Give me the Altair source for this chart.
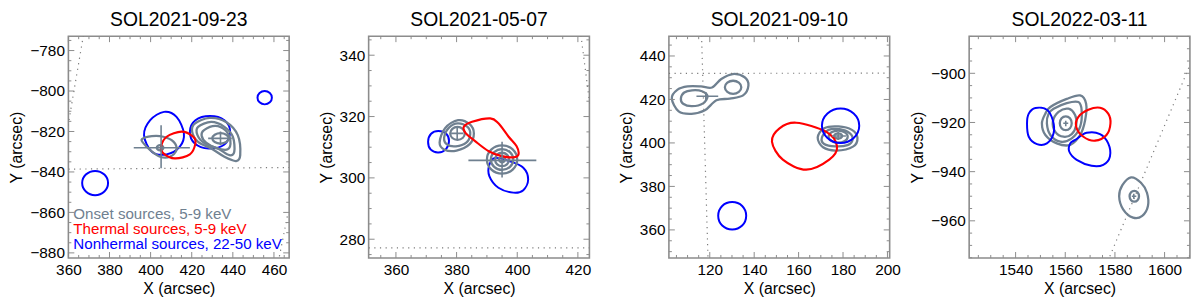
import altair as alt
import pandas as pd

FONT = "Liberation Sans"
ONSET_C = "#6f8090"
THERM_C = "#ff0000"
NONTH_C = "#0000ff"
FRAME_C = "#8c8c8c"
DOT_C = "#7a7a7a"

KINDS = ["onset", "thermal", "nonthermal"]
KIND_COLORS = [ONSET_C, THERM_C, NONTH_C]

TITLES = ["SOL2021-09-23", "SOL2021-05-07", "SOL2021-09-10", "SOL2022-03-11"]
X_DOMAINS = [[360.0, 467.4], [351.0, 423.8], [101.6, 201.0], [1521.3, 1610.2]]
Y_DOMAINS = [[-882.5, -772.9], [273.9, 346.2], [347.1, 449.1], [-975.1, -884.9]]
X_TICKS = [[360, 380, 400, 420, 440, 460], [360, 380, 400, 420],
           [120, 140, 160, 180, 200], [1540, 1560, 1580, 1600]]
Y_TICKS = [[-880, -860, -840, -820, -800, -780], [280, 300, 320, 340],
           [360, 380, 400, 420, 440], [-960, -940, -920, -900]]

LEGEND_TEXT = ["Onset sources, 5-9 keV", "Thermal sources, 5-9 keV",
               "Nonhermal sources, 22-50 keV"]

# ---------------- Panel 1: SOL2021-09-23 ----------------
P1_NT1_X = [379.3, 377.5, 373.0, 368.5, 366.7, 368.5, 373.0, 377.5]
P1_NT1_Y = [-845.5, -841.3, -839.5, -841.3, -845.5, -849.7, -851.5, -849.7]
P1_NT2_X = [459.0, 458.0, 455.5, 453.0, 452.0, 453.0, 455.5, 458.0]
P1_NT2_Y = [-803.3, -801.0, -800.0, -801.0, -803.3, -805.6, -806.6, -805.6]
P1_NT3_X = [406.5, 412.6, 416.2, 414.2, 407.8, 400.6, 396.8, 399.8]
P1_NT3_Y = [-810.3, -812.8, -821.0, -827.5, -831.3, -830.0, -821.8, -814.4]
P1_NT4_X = [428.9, 435.9, 438.7, 435.9, 428.2, 421.5, 419.1, 421.8]
P1_NT4_Y = [-812.3, -814.4, -820.1, -826.4, -828.4, -825.9, -820.1, -814.4]
P1_TH1_X = [415.1, 420.7, 421.8, 419.1, 411.8, 406.2, 405.1, 407.8]
P1_TH1_Y = [-820.1, -822.6, -825.9, -831.3, -833.3, -830.8, -827.5, -822.6]
P1_ON1_X = [395.8, 400.6, 406.2, 411.1, 412.6, 409.4, 404.6, 399.8, 396.6]
P1_ON1_Y = [-823.8, -822.3, -822.6, -825.0, -829.2, -832.5, -832.5, -829.2, -825.9]
P1_ON2_X = [406.2, 405.7, 404.6, 403.5, 403.0, 403.5, 404.6, 405.7]
P1_ON2_Y = [-828.0, -827.1, -826.7, -827.1, -828.0, -828.9, -829.3, -828.9]
P1_ON3_X = [421.5, 428.7, 436.7, 442.4, 443.6, 441.6, 435.9, 429.5, 423.1, 420.2]
P1_ON3_Y = [-816.1, -813.3, -815.3, -821.8, -831.7, -834.6, -832.5, -828.4, -825.1, -820.1]
P1_ON4_X = [423.1, 429.5, 435.9, 440.0, 440.7, 438.3, 432.7, 426.3, 422.8]
P1_ON4_Y = [-817.7, -815.3, -817.7, -822.6, -830.0, -831.7, -828.4, -825.9, -821.8]
P1_ON5_X = [426.0, 431.5, 436.5, 438.8, 437.5, 432.0, 427.0, 424.8]
P1_ON5_Y = [-819.3, -817.2, -819.5, -824.5, -828.8, -828.2, -825.5, -822.0]
P1_ON6_X = [438.0, 436.8, 434.0, 431.2, 430.0, 431.2, 434.0, 436.8]
P1_ON6_Y = [-823.4, -821.6, -820.8, -821.6, -823.4, -825.2, -826.0, -825.2]
P1_CROSS_X1 = [391.8, 405.1, 428.0, 434.0]
P1_CROSS_X2 = [419.1, 405.1, 439.5, 434.0]
P1_CROSS_Y1 = [-828.0, -816.9, -823.4, -820.0]
P1_CROSS_Y2 = [-828.0, -838.2, -823.4, -826.8]
P1_DOT_X1 = [360.0, 367.3, 466.5]
P1_DOT_X2 = [467.4, 359.6, 462.5]
P1_DOT_Y1 = [-838.6, -772.5, -862.0]
P1_DOT_Y2 = [-837.8, -818.5, -882.5]

# ---------------- Panel 2: SOL2021-05-07 ----------------
P2_NT1_X = [374.0, 376.6, 377.5, 376.5, 374.0, 371.5, 370.6, 371.6]
P2_NT1_Y = [315.3, 314.4, 312.0, 309.4, 308.3, 309.2, 311.8, 314.4]
P2_NT2_X = [392.7, 397.6, 402.0, 403.6, 402.0, 398.7, 393.8, 390.8, 390.8]
P2_NT2_Y = [306.5, 305.4, 303.3, 299.5, 296.0, 295.2, 296.8, 300.6, 304.3]
P2_TH1_X = [382.4, 385.1, 391.1, 393.8, 397.1, 399.8, 400.4, 398.7, 394.9, 390.6, 386.2, 383.0]
P2_TH1_Y = [316.7, 318.3, 319.4, 317.8, 313.5, 310.3, 307.6, 306.7, 307.1, 308.7, 311.9, 314.6]
P2_ON1_X = [380.5, 384.3, 385.7, 384.3, 380.0, 376.0, 374.4, 376.2]
P2_ON1_Y = [318.8, 317.5, 314.5, 311.0, 308.9, 309.2, 311.5, 316.2]
P2_ON2_X = [380.4, 383.6, 384.5, 383.2, 379.8, 376.8, 375.9, 377.5]
P2_ON2_Y = [317.8, 316.6, 314.2, 311.5, 310.3, 310.9, 313.2, 316.4]
P2_ON3_X = [382.7, 382.0, 380.3, 378.6, 377.9, 378.6, 380.3, 382.0]
P2_ON3_Y = [314.5, 316.0, 316.6, 316.0, 314.5, 313.0, 312.4, 313.0]
P2_ON4_X = [400.0, 398.5, 395.0, 391.5, 390.0, 391.5, 395.0, 398.5]
P2_ON4_Y = [306.0, 309.3, 310.6, 309.3, 306.0, 302.7, 301.4, 302.7]
P2_ON5_X = [398.7, 397.6, 395.0, 392.4, 391.3, 392.4, 395.0, 397.6]
P2_ON5_Y = [306.0, 308.4, 309.4, 308.4, 306.0, 303.6, 302.6, 303.6]
P2_ON6_X = [397.3, 396.6, 395.0, 393.4, 392.7, 393.4, 395.0, 396.6]
P2_ON6_Y = [306.0, 307.6, 308.2, 307.6, 306.0, 304.4, 303.8, 304.4]
P2_ON7_X = [396.0, 395.7, 395.0, 394.3, 394.0, 394.3, 395.0, 395.7]
P2_ON7_Y = [306.0, 306.6, 306.9, 306.6, 306.0, 305.4, 305.1, 305.4]
P2_CROSS_X1 = [378.2, 380.2, 383.9, 395.0]
P2_CROSS_X2 = [382.2, 380.2, 406.3, 395.0]
P2_CROSS_Y1 = [314.5, 312.5, 305.7, 300.1]
P2_CROSS_Y2 = [314.5, 316.6, 305.7, 311.8]
P2_DOT_X1 = [351.0, 421.0]
P2_DOT_X2 = [423.8, 424.2]
P2_DOT_Y1 = [277.2, 346.5]
P2_DOT_Y2 = [277.2, 322.0]

# ---------------- Panel 3: SOL2021-09-10 ----------------
P3_ON1_X = [102.9, 105.5, 110.0, 116.0, 121.0, 125.2, 130.4, 135.7, 137.4, 135.0, 129.0, 123.0, 117.8, 111.8, 106.0]
P3_ON1_Y = [420.5, 424.5, 426.0, 426.0, 425.5, 429.4, 431.7, 430.2, 426.4, 421.9, 420.4, 419.6, 415.0, 413.4, 414.5]
P3_ON2_X = [112.0, 116.5, 119.0, 117.0, 112.0, 108.0, 107.0, 108.5]
P3_ON2_Y = [424.2, 423.8, 421.5, 418.2, 416.9, 418.0, 420.5, 423.2]
P3_ON3_X = [134.2, 133.1, 130.5, 127.9, 126.8, 127.9, 130.5, 133.1]
P3_ON3_Y = [425.6, 427.7, 428.6, 427.7, 425.6, 423.5, 422.6, 423.5]
P3_ON4_X = [171.5, 178.0, 184.0, 186.5, 184.5, 177.0, 171.0, 168.6]
P3_ON4_Y = [406.8, 407.6, 406.0, 402.4, 398.3, 396.5, 398.0, 402.5]
P3_ON5_X = [173.5, 178.5, 183.0, 184.3, 182.0, 176.5, 171.5, 170.5]
P3_ON5_Y = [406.0, 406.3, 404.5, 401.5, 399.0, 398.4, 399.5, 402.5]
P3_ON6_X = [182.1, 180.8, 177.8, 174.8, 173.5, 174.8, 177.8, 180.8]
P3_ON6_Y = [402.9, 404.9, 405.7, 404.9, 402.9, 400.9, 400.1, 400.9]
P3_ON7_X = [179.6, 179.1, 177.8, 176.5, 176.0, 176.5, 177.8, 179.1]
P3_ON7_Y = [403.2, 404.0, 404.4, 404.0, 403.2, 402.4, 402.0, 402.4]
P3_TH1_X = [158.9, 172.3, 177.3, 173.8, 163.4, 152.9, 148.0, 151.4]
P3_TH1_Y = [409.3, 405.2, 398.4, 392.3, 387.7, 392.3, 400.6, 406.7]
P3_NT1_X = [187.3, 184.8, 178.9, 173.0, 170.5, 173.0, 178.9, 184.8]
P3_NT1_Y = [407.9, 413.5, 415.8, 413.5, 407.9, 402.3, 400.0, 402.3]
P3_NT2_X = [136.4, 134.6, 130.1, 125.6, 123.8, 125.6, 130.1, 134.6]
P3_NT2_Y = [366.5, 371.0, 372.8, 371.0, 366.5, 362.0, 360.2, 362.0]
P3_CROSS_X1 = [114.0, 118.2, 175.0, 177.8]
P3_CROSS_X2 = [123.8, 118.2, 181.3, 177.8]
P3_CROSS_Y1 = [421.5, 419.5, 403.2, 401.4]
P3_CROSS_Y2 = [421.5, 423.4, 403.2, 405.0]
P3_DOT_X1 = [101.6, 116.3]
P3_DOT_X2 = [201.0, 119.2]
P3_DOT_Y1 = [432.0, 449.5]
P3_DOT_Y2 = [432.1, 347.0]

# ---------------- Panel 4: SOL2022-03-11 ----------------
P4_ON1_X = [1554.0, 1560.6, 1566.0, 1568.4, 1568.0, 1566.0, 1562.0, 1556.6, 1552.0, 1550.6, 1552.0]
P4_ON1_Y = [-913.7, -910.4, -909.0, -912.4, -919.1, -925.1, -929.1, -928.5, -925.1, -920.4, -916.4]
P4_ON2_X = [1555.3, 1560.6, 1565.3, 1566.6, 1566.0, 1562.6, 1558.0, 1554.0, 1552.6, 1553.3]
P4_ON2_Y = [-914.4, -912.1, -911.7, -915.1, -921.7, -926.5, -927.8, -925.1, -920.4, -916.4]
P4_ON3_X = [1557.3, 1561.3, 1564.0, 1564.4, 1562.6, 1559.3, 1556.0, 1555.0]
P4_ON3_Y = [-915.7, -914.4, -917.1, -921.1, -924.7, -925.8, -923.8, -919.7]
P4_ON4_X = [1562.6, 1561.9, 1560.2, 1558.5, 1557.8, 1558.5, 1560.2, 1561.9]
P4_ON4_Y = [-920.3, -918.3, -917.5, -918.3, -920.3, -922.3, -923.1, -922.3]
P4_ON5_X = [1586.5, 1590.5, 1592.9, 1593.3, 1591.0, 1587.3, 1583.3, 1581.7, 1583.0]
P4_ON5_Y = [-942.3, -944.5, -948.6, -954.0, -958.0, -958.7, -955.3, -950.0, -945.5]
P4_ON6_X = [1589.7, 1589.1, 1587.8, 1586.5, 1585.9, 1586.5, 1587.8, 1589.1]
P4_ON6_Y = [-950.0, -948.4, -947.8, -948.4, -950.0, -951.6, -952.2, -951.6]
P4_NT1_X = [1548.0, 1552.6, 1555.0, 1555.3, 1552.6, 1548.6, 1545.3, 1544.6, 1545.3]
P4_NT1_Y = [-914.1, -914.8, -919.1, -924.4, -928.5, -928.8, -925.8, -920.4, -916.4]
P4_NT2_X = [1564.0, 1568.6, 1574.0, 1577.3, 1578.0, 1575.3, 1570.6, 1564.6, 1561.6, 1562.0]
P4_NT2_Y = [-927.1, -924.2, -924.7, -928.5, -933.8, -937.2, -937.6, -935.2, -931.8, -928.5]
P4_TH1_X = [1574.0, 1577.3, 1578.2, 1576.6, 1572.0, 1567.3, 1564.4, 1565.3, 1569.3]
P4_TH1_Y = [-914.0, -916.4, -920.4, -925.1, -927.4, -925.8, -921.7, -917.7, -914.8]
P4_CROSS_X1 = [1559.2, 1560.2, 1586.8, 1587.6]
P4_CROSS_X2 = [1561.2, 1560.2, 1588.6, 1587.6]
P4_CROSS_Y1 = [-920.3, -919.3, -950.0, -949.0]
P4_CROSS_Y2 = [-920.3, -921.5, -950.0, -951.0]
P4_DOT_X1 = [1611.5]
P4_DOT_X2 = [1577.5]
P4_DOT_Y1 = [-893.5]
P4_DOT_Y2 = [-975.5]

CONTOURS = [
    (0, "nonthermal", P1_NT1_X, P1_NT1_Y), (0, "nonthermal", P1_NT2_X, P1_NT2_Y),
    (0, "nonthermal", P1_NT3_X, P1_NT3_Y), (0, "nonthermal", P1_NT4_X, P1_NT4_Y),
    (0, "onset", P1_ON1_X, P1_ON1_Y), (0, "onset", P1_ON2_X, P1_ON2_Y),
    (0, "onset", P1_ON3_X, P1_ON3_Y), (0, "onset", P1_ON4_X, P1_ON4_Y),
    (0, "onset", P1_ON5_X, P1_ON5_Y), (0, "onset", P1_ON6_X, P1_ON6_Y),
    (0, "thermal", P1_TH1_X, P1_TH1_Y),
    (1, "nonthermal", P2_NT1_X, P2_NT1_Y), (1, "nonthermal", P2_NT2_X, P2_NT2_Y),
    (1, "onset", P2_ON1_X, P2_ON1_Y), (1, "onset", P2_ON2_X, P2_ON2_Y),
    (1, "onset", P2_ON3_X, P2_ON3_Y), (1, "onset", P2_ON4_X, P2_ON4_Y),
    (1, "onset", P2_ON5_X, P2_ON5_Y), (1, "onset", P2_ON6_X, P2_ON6_Y),
    (1, "onset", P2_ON7_X, P2_ON7_Y), (1, "thermal", P2_TH1_X, P2_TH1_Y),
    (2, "onset", P3_ON1_X, P3_ON1_Y), (2, "onset", P3_ON2_X, P3_ON2_Y),
    (2, "onset", P3_ON3_X, P3_ON3_Y), (2, "onset", P3_ON4_X, P3_ON4_Y),
    (2, "onset", P3_ON5_X, P3_ON5_Y), (2, "onset", P3_ON6_X, P3_ON6_Y),
    (2, "onset", P3_ON7_X, P3_ON7_Y), (2, "thermal", P3_TH1_X, P3_TH1_Y),
    (2, "nonthermal", P3_NT1_X, P3_NT1_Y), (2, "nonthermal", P3_NT2_X, P3_NT2_Y),
    (3, "onset", P4_ON1_X, P4_ON1_Y), (3, "onset", P4_ON2_X, P4_ON2_Y),
    (3, "onset", P4_ON3_X, P4_ON3_Y), (3, "onset", P4_ON4_X, P4_ON4_Y),
    (3, "onset", P4_ON5_X, P4_ON5_Y), (3, "onset", P4_ON6_X, P4_ON6_Y),
    (3, "nonthermal", P4_NT1_X, P4_NT1_Y), (3, "nonthermal", P4_NT2_X, P4_NT2_Y),
    (3, "thermal", P4_TH1_X, P4_TH1_Y),
]
CROSSES = [
    (P1_CROSS_X1, P1_CROSS_X2, P1_CROSS_Y1, P1_CROSS_Y2),
    (P2_CROSS_X1, P2_CROSS_X2, P2_CROSS_Y1, P2_CROSS_Y2),
    (P3_CROSS_X1, P3_CROSS_X2, P3_CROSS_Y1, P3_CROSS_Y2),
    (P4_CROSS_X1, P4_CROSS_X2, P4_CROSS_Y1, P4_CROSS_Y2),
]
DOTS = [
    (P1_DOT_X1, P1_DOT_X2, P1_DOT_Y1, P1_DOT_Y2),
    (P2_DOT_X1, P2_DOT_X2, P2_DOT_Y1, P2_DOT_Y2),
    (P3_DOT_X1, P3_DOT_X2, P3_DOT_Y1, P3_DOT_Y2),
    (P4_DOT_X1, P4_DOT_X2, P4_DOT_Y1, P4_DOT_Y2),
]

W, H = 223, 224
MAJ, MIN = 6, 3

rows = []
for ci, (p, kind, xs, ys) in enumerate(CONTOURS):
    for k, (x, y) in enumerate(zip(xs, ys)):
        rows.append({"panel": p, "kind": kind, "cid": f"c{ci}", "ord": k, "x": x, "y": y})
contour_df = pd.DataFrame(rows)


def minor_ticks(dom, majors):
    lo = int(-(-dom[0] // 5) * 5)
    out = []
    v = lo
    while v <= dom[1]:
        if v not in majors:
            out.append(v)
        v += 5
    return out


AXIS_TEXT = dict(labelFont=FONT, labelFontSize=15.5, labelColor="black",
                 titleFont=FONT, titleFontSize=16, titleFontWeight="normal", titleColor="black")


def panel(p):
    xsc = alt.Scale(domain=X_DOMAINS[p], nice=False, zero=False)
    ysc = alt.Scale(domain=Y_DOMAINS[p], nice=False, zero=False)
    ax = alt.Axis(values=X_TICKS[p], format="d", ticks=False, domain=False, grid=False,
                  labelPadding=5, labelFlush=False, labelOverlap=False, titlePadding=2,
                  **AXIS_TEXT)
    ay = alt.Axis(values=Y_TICKS[p], format="d", ticks=False, domain=False, grid=False,
                  labelPadding=4, labelFlush=False, labelOverlap=False, titlePadding=5,
                  **AXIS_TEXT)
    XT, YT = "X (arcsec)", "Y (arcsec)"

    def X(field):
        return alt.X(field, scale=xsc, axis=ax, title=XT)

    def Y(field):
        return alt.Y(field, scale=ysc, axis=ay, title=YT)

    d = contour_df[contour_df.panel == p]
    contours = alt.Chart(d).mark_line(interpolate="cardinal-closed", clip=True).encode(
        x=X("x:Q"), y=Y("y:Q"),
        detail="cid:N",
        order="ord:Q",
        color=alt.Color("kind:N", scale=alt.Scale(domain=KINDS, range=KIND_COLORS), legend=None),
        strokeWidth=alt.StrokeWidth("kind:N", scale=alt.Scale(domain=KINDS, range=[2.3, 2.0, 2.0]),
                                    legend=None),
    )
    cx1, cx2, cy1, cy2 = CROSSES[p]
    cross = alt.Chart(pd.DataFrame({"x1": cx1, "x2": cx2, "y1": cy1, "y2": cy2})).mark_rule(
        color=ONSET_C, strokeWidth=1.6, clip=True).encode(
        x=X("x1:Q"), x2="x2:Q", y=Y("y1:Q"), y2="y2:Q")
    dx1, dx2, dy1, dy2 = DOTS[p]
    dots = alt.Chart(pd.DataFrame({"x1": dx1, "x2": dx2, "y1": dy1, "y2": dy2})).mark_rule(
        color=DOT_C, strokeWidth=1.2, strokeDash=[1.2, 4.5], clip=True).encode(
        x=X("x1:Q"), x2="x2:Q", y=Y("y1:Q"), y2="y2:Q")

    layers = [contours, dots, cross]
    xmaj = list(X_TICKS[p])
    ymaj = list(Y_TICKS[p])
    xmin = minor_ticks(X_DOMAINS[p], xmaj)
    ymin = minor_ticks(Y_DOMAINS[p], ymaj)
    for vals, L in [(xmaj, MAJ), (xmin, MIN)]:
        td = pd.DataFrame({"v": vals})
        for y0, y1 in [(0, L), (H, H - L)]:
            layers.append(alt.Chart(td).mark_rule(color=FRAME_C, strokeWidth=1).encode(
                x=X("v:Q"), y=alt.value(y0), y2=alt.value(y1)))
    for vals, L in [(ymaj, MAJ), (ymin, MIN)]:
        td = pd.DataFrame({"v": vals})
        for x0, x1 in [(0, L), (W, W - L)]:
            layers.append(alt.Chart(td).mark_rule(color=FRAME_C, strokeWidth=1).encode(
                y=Y("v:Q"), x=alt.value(x0), x2=alt.value(x1)))

    if p == 0:
        for txt, col, ypix in zip(LEGEND_TEXT, KIND_COLORS, [185, 200, 215]):
            layers.append(alt.Chart(pd.DataFrame({"t": [txt]})).mark_text(
                align="left", baseline="alphabetic", fontSize=15.3, font=FONT, color=col).encode(
                text="t:N", x=alt.value(5), y=alt.value(ypix)))

    return alt.layer(*layers).properties(
        width=W, height=H,
        title=alt.TitleParams(TITLES[p], fontSize=19.5, font=FONT, fontWeight="normal",
                              color="black", offset=5, anchor="middle"))


chart = alt.hconcat(*[panel(p) for p in range(4)], spacing=80.3, bounds="flush").properties(
    padding={"left": 0, "top": 0, "right": 0, "bottom": 0}
).configure(font=FONT).configure_view(stroke=FRAME_C, strokeWidth=1.6).configure_axis(
    **AXIS_TEXT
)

chart.save("out.html", embed_options={"renderer": "svg", "actions": False})
